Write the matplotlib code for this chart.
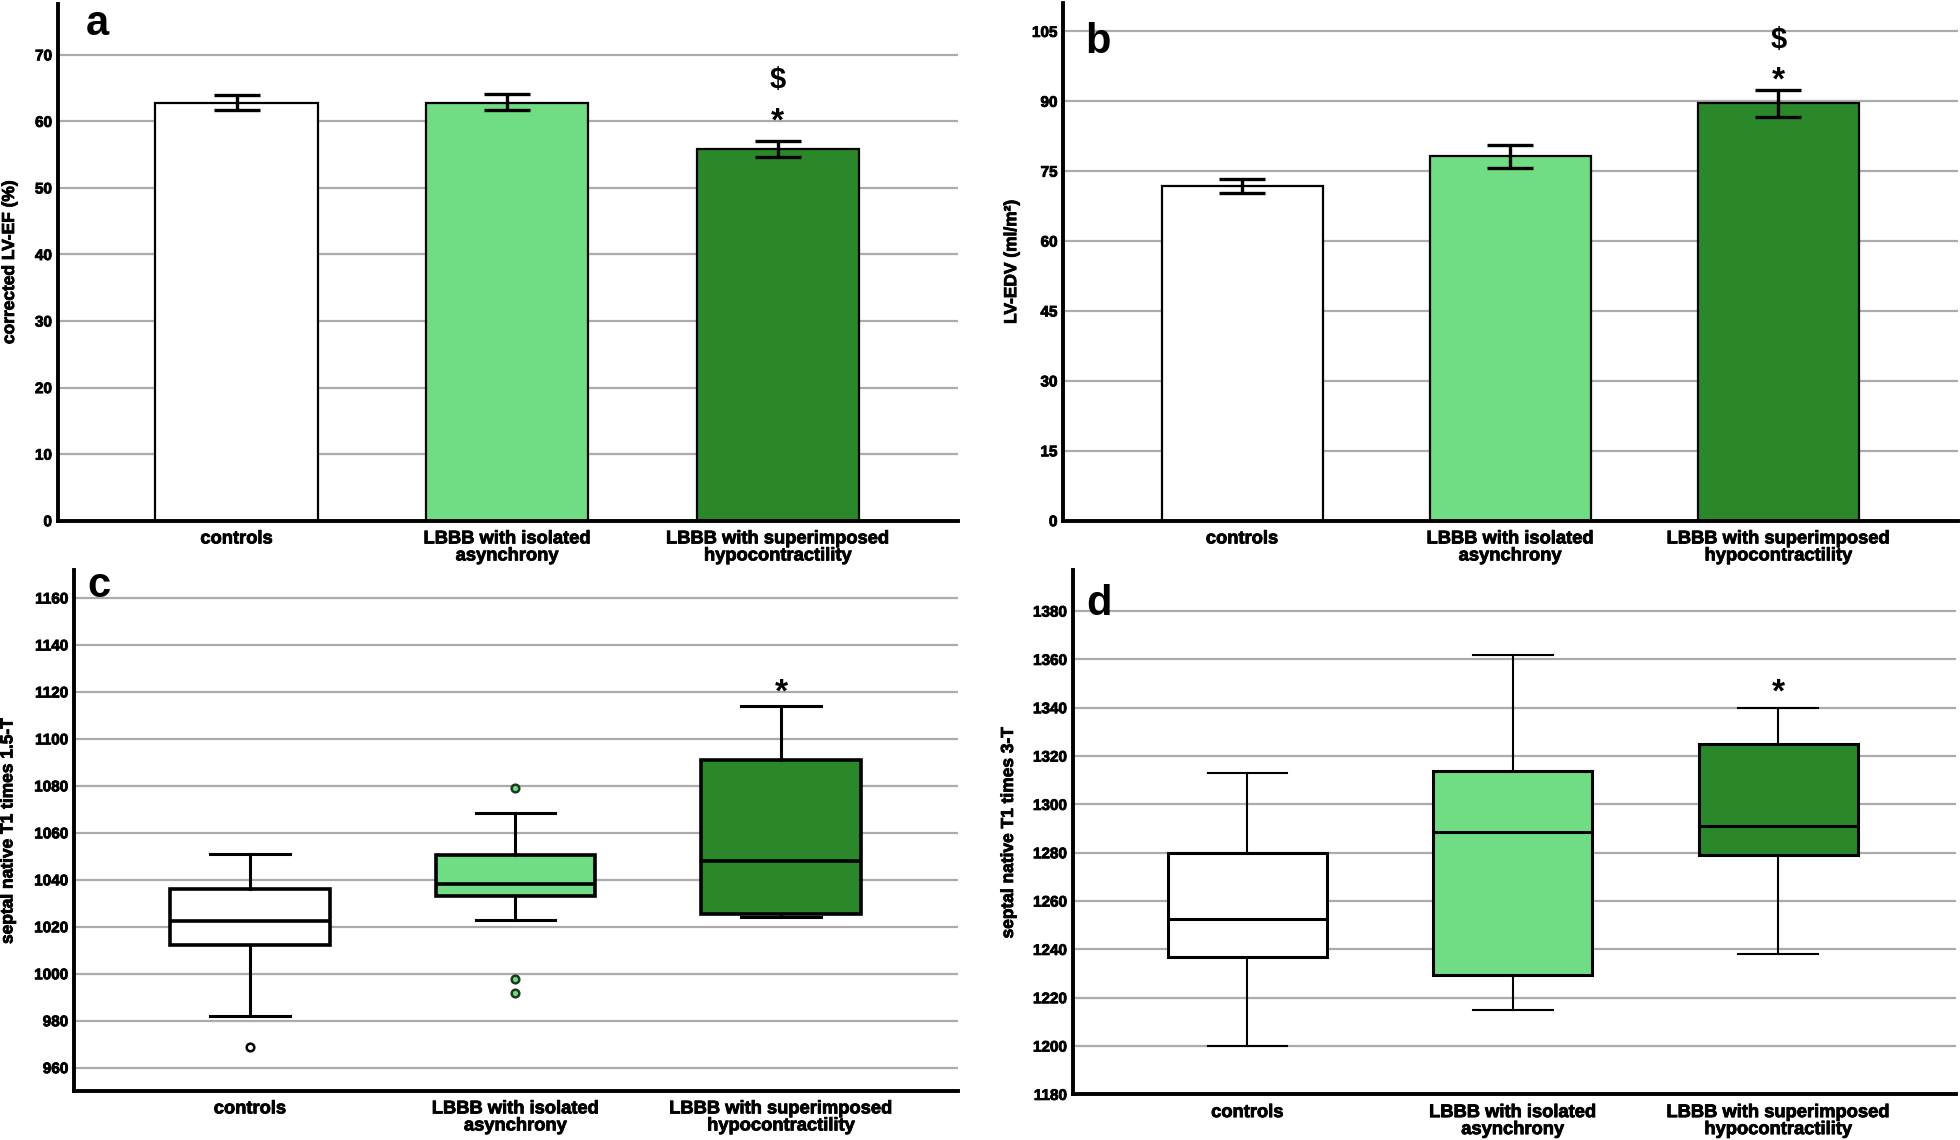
import matplotlib
matplotlib.use("Agg")
import matplotlib.pyplot as plt
import matplotlib.patheffects as pe
import numpy as np

plt.rcParams['font.family'] = ['Liberation Sans', 'DejaVu Sans']
plt.rcParams['font.weight'] = 'bold'

# ---------------- data ----------------
categories = ["controls", "LBBB with isolated\nasynchrony", "LBBB with superimposed\nhypocontractility"]
colors = ["#ffffff", "#70dc84", "#2a882a"]

# panel a: corrected LV-EF (%)
ef_mean = [62.8, 62.8, 55.9]
ef_low = [61.7, 61.7, 54.6]
ef_high = [64.0, 64.1, 57.1]
ef_ticks = [0, 10, 20, 30, 40, 50, 60, 70]

# panel b: LV-EDV (ml/m2)
edv_mean = [71.8, 78.3, 89.6]
edv_low = [70.3, 75.7, 86.7]
edv_high = [73.3, 80.7, 92.5]
edv_ticks = [0, 15, 30, 45, 60, 75, 90, 105]

# panel c: septal native T1 1.5-T (boxplot stats)
c_q1 = [1012.2, 1033.1, 1025.6]
c_med = [1022.4, 1038.2, 1048.1]
c_q3 = [1036.0, 1050.6, 1091.1]
c_wlo = [982.0, 1022.8, 1024.2]
c_whi = [1050.9, 1068.4, 1114.2]
c_fliers = [[968.7], [1078.9, 997.9, 991.6], []]
c_ticks = [960, 980, 1000, 1020, 1040, 1060, 1080, 1100, 1120, 1140, 1160]

# panel d: septal native T1 3-T (boxplot stats)
d_q1 = [1237.0, 1229.6, 1279.2]
d_med = [1252.6, 1288.7, 1291.1]
d_q3 = [1280.0, 1314.0, 1325.0]
d_wlo = [1200.0, 1215.0, 1238.3]
d_whi = [1313.0, 1361.7, 1340.0]
d_fliers = [[], [], []]
d_ticks = [1180, 1200, 1220, 1240, 1260, 1280, 1300, 1320, 1340, 1360, 1380]

# significance markers: (category index, symbol, y centre)
marks_a = [(2, "*", 61.6), (2, "$", 66.6)]
marks_b = [(2, "*", 96.6), (2, "$", 103.7)]
marks_c = [(2, "*", 1124.0)]
marks_d = [(2, "*", 1350.5)]

W, H = 1960, 1140
fig = plt.figure(figsize=(W / 100, H / 100), dpi=100)
heavy = [pe.withStroke(linewidth=0.6, foreground='black')]

def px_axes(l, t, r, b):
    return fig.add_axes([l / W, 1 - b / H, (r - l) / W, (b - t) / H])

ax_a = px_axes(57.5, 3.6, 958, 520.7)
ax_b = px_axes(1063, 2.5, 1958, 520.7)
ax_c = px_axes(73.75, 570, 958, 1090.7)
ax_d = px_axes(1072.5, 570, 1956, 1094.4)

pos = np.arange(len(categories))

def style(ax, ticks, ylim, xlim, ylabel, labx):
    ax.set_xlim(*xlim)
    ax.set_ylim(*ylim)
    ax.set_yticks(ticks)
    ax.set_yticklabels([str(t) for t in ticks], fontsize=11, fontweight='bold')
    ax.set_xticks(pos)
    ax.set_xticklabels(categories, fontsize=13.2, fontweight='bold', linespacing=1.0)
    ax.tick_params(axis='both', length=0)
    ax.tick_params(axis='y', pad=4)
    ax.tick_params(axis='x', pad=7)
    for s in ['top', 'right']:
        ax.spines[s].set_visible(False)
    for s in ['left', 'bottom']:
        ax.spines[s].set_linewidth(2.8)
        ax.spines[s].set_zorder(5)
    ax.set_axisbelow(True)
    ax.yaxis.grid(True, color='#ababab', linewidth=1.6)
    ax.set_ylabel(ylabel, fontsize=12.5, fontweight='bold')
    ax.yaxis.set_label_coords(labx, 0.5)
    for t in ax.get_xticklabels() + ax.get_yticklabels() + [ax.yaxis.label]:
        t.set_path_effects(heavy)

def marks(ax, items):
    for i, sym, yc in items:
        fs = 24 if sym == "*" else 21
        off = -0.58 * fs if sym == "*" else -0.355 * fs
        ax.annotate(sym, xy=(pos[i], yc), xytext=(0, off), textcoords='offset points',
                    ha='center', va='baseline', fontsize=fs, fontweight='bold')

def bars(ax, mean, low, high):
    mean = np.array(mean); low = np.array(low); high = np.array(high)
    ax.bar(pos, mean, width=0.6, color=colors, edgecolor='black', linewidth=1.6, zorder=2)
    ax.errorbar(pos, mean, yerr=[mean - low, high - mean], fmt='none', ecolor='black',
                elinewidth=2.4, capsize=16.5, capthick=2.4, zorder=3)

def boxes(ax, q1, med, q3, wlo, whi, fliers, lw_box, lw_wh, lw_med):
    for i in range(len(categories)):
        st = dict(med=med[i], q1=q1[i], q3=q3[i], whislo=wlo[i], whishi=whi[i],
                  fliers=fliers[i], label=categories[i])
        fc = colors[i]
        mec = 'black' if i == 0 else '#1e3a22'
        ax.bxp([st], positions=[pos[i]], widths=0.6, capwidths=0.3, patch_artist=True,
               manage_ticks=False,
               boxprops=dict(facecolor=fc, edgecolor='black', linewidth=lw_box),
               medianprops=dict(color='black', linewidth=lw_med),
               whiskerprops=dict(color='black', linewidth=lw_wh),
               capprops=dict(color='black', linewidth=lw_wh),
               flierprops=dict(marker='o', markersize=5.5, markerfacecolor=fc,
                               markeredgecolor=mec, markeredgewidth=1.8),
               zorder=2)

# panel a
bars(ax_a, ef_mean, ef_low, ef_high)
style(ax_a, ef_ticks, (0, 77.7), (-0.662, 2.666), "corrected LV-EF (%)", -0.045)
marks(ax_a, marks_a)

# panel b
bars(ax_b, edv_mean, edv_low, edv_high)
style(ax_b, edv_ticks, (0, 111.2), (-0.668, 2.67), "LV-EDV (ml/m²)", -0.049)
marks(ax_b, marks_b)

# panel c
boxes(ax_c, c_q1, c_med, c_q3, c_wlo, c_whi, c_fliers, 2.6, 2.2, 2.6)
style(ax_c, c_ticks, (950.2, 1171.9), (-0.664, 2.667), "septal native T1 times 1.5-T", -0.066)
marks(ax_c, marks_c)

# panel d
boxes(ax_d, d_q1, d_med, d_q3, d_wlo, d_whi, d_fliers, 2.2, 1.5, 2.2)
style(ax_d, d_ticks, (1180, 1397), (-0.659, 2.67), "septal native T1 times 3-T", -0.064)
marks(ax_d, marks_d)

# panel letters
for letter, x, yb in [("a", 86, 35), ("b", 1085, 52.7), ("c", 87, 596.7), ("d", 1086, 615)]:
    fig.text(x / W, 1 - yb / H, letter, fontsize=30, fontweight='bold', ha='left', va='baseline')

fig.savefig("out.png", dpi=100)
